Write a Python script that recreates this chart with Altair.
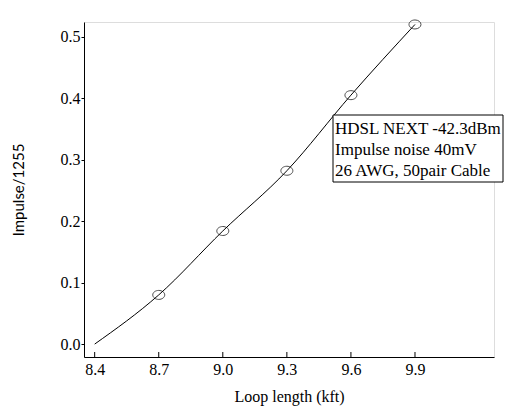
import altair as alt
import pandas as pd

# Data
line_x = [8.4, 8.7, 9.0, 9.3, 9.6, 9.9]
line_y = [0.0, 0.080, 0.184, 0.282, 0.405, 0.520]
pt_x = [8.7, 9.0, 9.3, 9.6, 9.9]
pt_y = [0.080, 0.184, 0.282, 0.405, 0.520]
x_ticks = [8.4, 8.7, 9.0, 9.3, 9.6, 9.9]
y_ticks = [0.0, 0.1, 0.2, 0.3, 0.4, 0.5]
note_lines = ["HDSL NEXT -42.3dBm", "Impulse noise 40mV", "26 AWG, 50pair Cable"]

line_df = pd.DataFrame({"x": line_x, "y": line_y})
pt_df = pd.DataFrame({"x": pt_x, "y": pt_y})
tick_df = pd.DataFrame({"x": x_ticks})

SERIF = "Liberation Serif"
W, H = 410, 335
ELLIPSE = "M-1,0A1,0.75 0 1,0 1,0A1,0.75 0 1,0 -1,0Z"

xs = alt.Scale(domain=[8.35, 10.27], nice=False, zero=False)
ys = alt.Scale(domain=[-0.021, 0.524], nice=False, zero=False)

xaxis = alt.Axis(values=x_ticks, format=".1f", title="Loop length (kft)",
                 labelFont=SERIF, labelFontSize=16, labelColor="black",
                 titleFont=SERIF, titleFontSize=16, titleFontWeight="normal",
                 titleColor="black", titlePadding=11,
                 ticks=False, labelPadding=4,
                 domainColor="black", grid=False)
yaxis = alt.Axis(values=y_ticks, format=".1f", title="Impulse/1255",
                 labelFont=SERIF, labelFontSize=16, labelColor="black",
                 titleFont="Lato", titleFontSize=15, titleFontWeight="normal",
                 titleColor="black", titlePadding=34,
                 tickColor="black", tickSize=3, labelPadding=1,
                 domainColor="black", grid=False)

line = alt.Chart(line_df).mark_line(color="black", strokeWidth=1, interpolate="monotone").encode(
    x=alt.X("x:Q", scale=xs, axis=xaxis),
    y=alt.Y("y:Q", scale=ys, axis=yaxis),
)
pts = alt.Chart(pt_df).mark_point(shape=ELLIPSE, filled=False, color="black",
                                  size=144, strokeWidth=1).encode(
    x=alt.X("x:Q", scale=xs),
    y=alt.Y("y:Q", scale=ys),
)
# inward x ticks
xticks = alt.Chart(tick_df).mark_rule(color="black", strokeWidth=1).encode(
    x=alt.X("x:Q", scale=xs),
    y=alt.value(H), y2=alt.value(H - 5),
)

box = alt.Chart(pd.DataFrame({"a": [0]})).mark_rect(
    fill="white", stroke="black", strokeWidth=1, clip=False
).encode(
    x=alt.value(249), x2=alt.value(419), y=alt.value(93), y2=alt.value(160)
)
note = alt.layer(*[
    alt.Chart(pd.DataFrame({"t": [note_lines[k]]})).mark_text(
        align="left", baseline="middle", font=SERIF, fontSize=17, color="black"
    ).encode(x=alt.value(251), y=alt.value(107 + 21 * k), text="t:N")
    for k in range(len(note_lines))
])

chart = alt.layer(line, pts, xticks, box, note).properties(
    width=W, height=H,
    autosize=alt.AutoSizeParams(type="none"),
    padding={"left": 76, "top": 14, "right": 10, "bottom": 49},
).configure_view(strokeWidth=0).configure(background="white")

chart.save("out.html", embed_options={"renderer": "svg", "actions": False})
